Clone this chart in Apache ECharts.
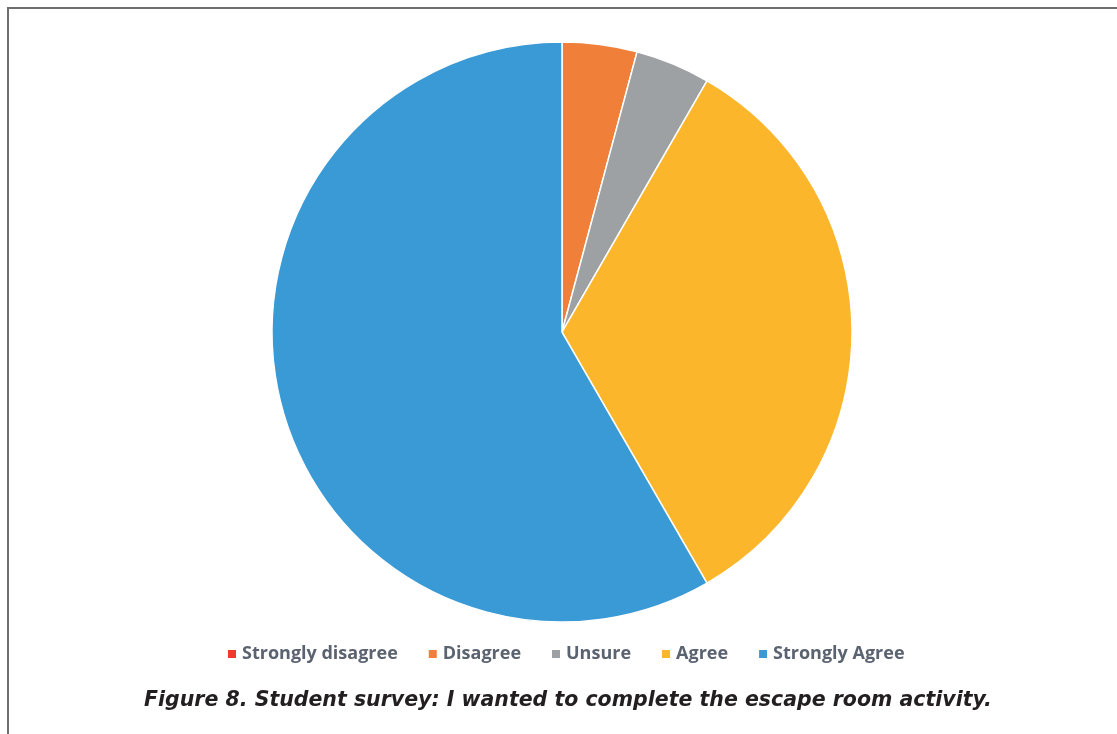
<!DOCTYPE html>
<html>
<head>
<meta charset="utf-8">
<script src="https://cdn.jsdelivr.net/npm/echarts@6/dist/echarts.min.js"></script>
<style>
    html, body { margin: 0; padding: 0; background: #fff; }
    #chart { width: 1117px; height: 734px; }
</style>
</head>
<body>
<div id="chart"></div>
<script>
    // survey answers (counts)
    var categories = ['Strongly disagree', 'Disagree', 'Unsure', 'Agree', 'Strongly Agree'];
    var counts = [0, 1, 1, 8, 14];
    var colors = ['#ee3b2d', '#f07f3a', '#9da1a4', '#fbb62b', '#3a9ad5'];
    var caption = 'Figure 8. Student survey: I wanted to complete the escape room activity.';

    var chart = echarts.init(document.getElementById('chart'));

    var pieData = [];
    for (var i = 0; i < categories.length; i++) {
        pieData.push({ name: categories[i], value: counts[i] });
    }

    var option = {
        animation: false,
        color: colors,
        legend: {
            data: categories,
            left: 221,
            top: 640,
            icon: 'rect',
            itemWidth: 10,
            itemHeight: 10,
            itemGap: 29,
            textStyle: {
                fontFamily: 'Open Sans',
                fontWeight: 'bold',
                fontSize: 18,
                color: '#5b6371'
            }
        },
        title: {
            text: caption,
            left: 139,
            top: 686,
            textStyle: {
                fontFamily: 'DejaVu Sans',
                fontStyle: 'italic',
                fontWeight: 'bold',
                fontSize: 20.5,
                color: '#231f20'
            }
        },
        graphic: [
            { type: 'line', shape: { x1: 8, y1: 8, x2: 8, y2: 734 }, style: { stroke: '#6e6e6e', lineWidth: 2 } },
            { type: 'line', shape: { x1: 7, y1: 8, x2: 1117, y2: 8 }, style: { stroke: '#6e6e6e', lineWidth: 2 } }
        ],
        series: [{
            type: 'pie',
            center: [562, 332],
            radius: 290,
            startAngle: 90,
            clockwise: true,
            label: { show: false },
            labelLine: { show: false },
            itemStyle: { borderColor: '#fff', borderWidth: 1.5 },
            data: pieData
        }]
    };

    chart.setOption(option);
</script>
</body>
</html>
